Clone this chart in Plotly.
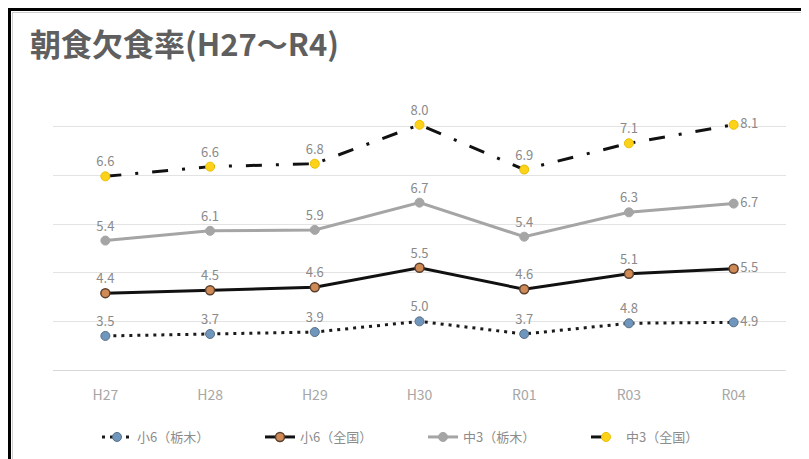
import plotly.graph_objects as go

# 年度
years = ['H27', 'H28', 'H29', 'H30', 'R01', 'R03', 'R04']

# 朝食欠食率 (%)
sho6_tochigi = [3.5, 3.7, 3.9, 5.0, 3.7, 4.8, 4.9]
sho6_zenkoku = [4.4, 4.5, 4.6, 5.5, 4.6, 5.1, 5.5]
chu3_tochigi = [5.4, 6.1, 5.9, 6.7, 5.4, 6.3, 6.7]
chu3_zenkoku = [6.6, 6.6, 6.8, 8.0, 6.9, 7.1, 8.1]

names = ['小6（栃木）', '小6（全国）', '中3（栃木）', '中3（全国）']

# the page body has an 8px margin, so the figure is a bit smaller than the window
OFF = 8
W, H = 809 - OFF, 459 - OFF
L, R, T, B = 45, 23, 109, 89


def px_x(x):
    # page pixel -> paper x
    return (x - OFF - L) / (W - L - R)


def px_y(y):
    # page pixel -> paper y
    return (H - B - (y - OFF)) / (H - T - B)


def make_fig():
    series = [sho6_tochigi, sho6_zenkoku, chu3_tochigi, chu3_zenkoku]
    line_styles = [
        dict(color='#1a1a1a', width=3, dash='3px,5px'),
        dict(color='#111111', width=3),
        dict(color='#a5a5a5', width=3),
        dict(color='#111111', width=3, dash='16px,14px,3px,14px'),
    ]
    markers = [
        dict(color='#6f97bd', size=9, line=dict(color='#5a6f85', width=1)),
        dict(color='#d08a55', size=9, line=dict(color='#5a4030', width=1.5)),
        dict(color='#a5a5a5', size=9, line=dict(color='#a5a5a5', width=1)),
        dict(color='#ffd21a', size=9, line=dict(color='#e8c000', width=1)),
    ]
    positions = ['top center'] * (len(years) - 1) + ['middle right']

    fig = go.Figure()
    for i, vals in enumerate(series):
        fig.add_trace(go.Scatter(
            x=years,
            y=vals,
            name=names[i],
            stackgroup='one',
            fill='none',
            mode='lines+markers+text',
            line=line_styles[i],
            marker=markers[i],
            text=[f'{v:.1f}' for v in vals],
            textposition=positions,
            textfont=dict(size=13, color='#8a8a8a'),
            cliponaxis=False,
        ))

    # 枠線
    shapes = [
        dict(type='line', xref='paper', yref='paper',
             x0=px_x(9.5), x1=px_x(9.5), y0=px_y(8), y1=px_y(459),
             line=dict(color='black', width=3)),
        dict(type='line', xref='paper', yref='paper',
             x0=px_x(8), x1=px_x(809), y0=px_y(9.5), y1=px_y(9.5),
             line=dict(color='black', width=3)),
        dict(type='line', xref='paper', yref='paper',
             x0=px_x(12.5), x1=px_x(12.5), y0=px_y(12), y1=px_y(459),
             line=dict(color='#cfcfcf', width=1)),
        dict(type='line', xref='paper', yref='paper',
             x0=px_x(12), x1=px_x(809), y0=px_y(12.5), y1=px_y(12.5),
             line=dict(color='#cfcfcf', width=1)),
    ]

    fig.update_layout(
        width=W,
        height=H,
        margin=dict(l=L, r=R, t=T, b=B),
        paper_bgcolor='white',
        plot_bgcolor='white',
        font=dict(family='Noto Sans CJK JP, sans-serif'),
        title=dict(
            text='<b>朝食欠食率(H27～R4)</b>',
            x=(30 - OFF) / W,
            xanchor='left',
            y=1 - (45 - OFF) / H,
            yanchor='middle',
            font=dict(size=31, color='#5f5f5f'),
        ),
        xaxis=dict(
            range=[-0.5, len(years) - 0.5],
            automargin=False,
            showline=True,
            linecolor='#d9d9d9',
            linewidth=1,
            showgrid=False,
            ticks='',
            ticklabelstandoff=12,
            tickfont=dict(size=14, color='#a6a6a6'),
        ),
        yaxis=dict(
            range=[0, 26],
            automargin=False,
            tickvals=[0, 5, 10, 15, 20, 25],
            showticklabels=False,
            showgrid=True,
            gridcolor='#e3e3e3',
            zeroline=False,
        ),
        showlegend=True,
        legend=dict(
            orientation='h',
            xref='container',
            yref='container',
            xanchor='left',
            x=(97 - OFF) / W,
            yanchor='middle',
            y=1 - (437 - OFF) / H,
            entrywidth=118,
            font=dict(size=13, color='#8c8c8c'),
        ),
        shapes=shapes,
    )
    return fig


def main():
    fig = make_fig()
    fig.write_html('out.html')


if __name__ == '__main__':
    main()
